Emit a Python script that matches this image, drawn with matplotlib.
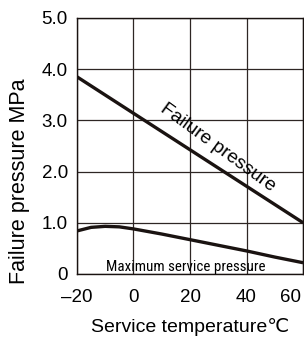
import matplotlib
matplotlib.use("Agg")
import matplotlib.pyplot as plt
import matplotlib.transforms as mtrans

temps = [-20, 60]
failure = [3.85, 1.0]
svc_t = [-20, -15, -10, -5, 0, 10, 20, 30, 40, 50, 60]
svc_p = [0.84, 0.91, 0.93, 0.92, 0.88, 0.78, 0.67, 0.56, 0.45, 0.33, 0.22]
xticks = [-20, 0, 20, 40, 60]
xlabels = ["\u201320", "0", "20", "40", "60"]
yticks = [0, 1, 2, 3, 4, 5]
ylabels = ["0", "1.0", "2.0", "3.0", "4.0", "5.0"]

plt.rcParams['font.family'] = ['Liberation Sans', 'DejaVu Sans']
fig = plt.figure(figsize=(3.04, 3.37), dpi=100)
ax = fig.add_axes([0.253, 0.187, 0.744, 0.76])
ax.plot(temps, failure, color='#1a1311', lw=2.4, solid_capstyle='butt')
ax.plot(svc_t, svc_p, color='#1a1311', lw=2.4, solid_capstyle='butt')
ax.set_xlim(-20, 60)
ax.set_ylim(0, 5)
ax.set_xticks(xticks)
ax.set_xticklabels(xlabels, fontsize=13.5)
ax.set_yticks(yticks)
ax.set_yticklabels(ylabels, fontsize=13.5)
ax.tick_params(axis='y', length=0, pad=6.5)
ax.tick_params(axis='x', length=0, pad=11)
last = ax.get_xticklabels()[-1]
last.set_horizontalalignment('right')
last.set_transform(last.get_transform()
                   + mtrans.ScaledTranslation(-2 / 100, 0, fig.dpi_scale_trans))
ax.grid(True, color='#2e2624', lw=0.9)
for s in ax.spines.values():
    s.set_color('#1a1311')
    s.set_linewidth(1.0)
ax.set_xlabel("Service temperature\u2103", fontsize=14, va='center')
ax.xaxis.set_label_coords(0.5, -0.207)
ax.set_ylabel("Failure pressure MPa", fontsize=15.5, va='center')
ax.yaxis.set_label_coords(-0.252, 0.363)
ax.text(29.8, 2.47, "Failure pressure", rotation=-36, fontsize=13.8,
        ha='center', va='center', rotation_mode='anchor')
ax.text(18.4, 0.05, "Maximum service pressure", fontsize=10.8,
        family=['Roboto Condensed', 'Open Sans Condensed',
                'Liberation Sans Narrow', 'Liberation Sans'],
        fontstretch='condensed', ha='center', va='baseline')
fig.savefig("out.png", dpi=100)
